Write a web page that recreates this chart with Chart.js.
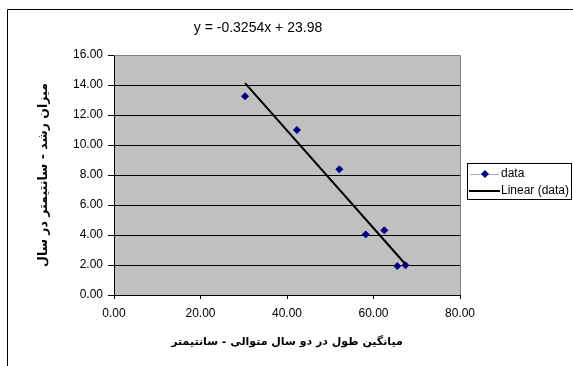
<!DOCTYPE html>
<html>
<head>
<meta charset="utf-8">
<script src="https://cdn.jsdelivr.net/npm/chart.js@4/dist/chart.umd.min.js"></script>
<style>
html,body{margin:0;padding:0;background:#fff;}
canvas{display:block;}
</style>
</head>
<body>
<canvas id="c" width="573" height="366"></canvas>
<script>
// ---- data ----
const pointX = [30.3, 42.3, 52.1, 58.2, 62.5, 65.5, 67.4];
const pointY = [13.25, 11.0, 8.38, 4.04, 4.31, 1.93, 1.98];
const trendX = [30.3, 67.4];
const trendY = [14.12, 2.05];
const trendSlope = -0.3254;
const trendIntercept = 23.98;
const seriesLabels = ['data', 'Linear (data)'];
const xTitle = 'میانگین طول در دو سال متوالی - سانتیمتر';
const yTitle = 'میزان رشد - سانتیمتر در سال';
const xRange = [0, 80], xStep = 20;
const yRange = [0, 16], yStep = 2;

const chartTitle = 'y = ' + trendSlope + 'x + ' + trendIntercept;
const FONT = '"Liberation Sans", Arial, sans-serif';
const AFONT = '"DejaVu Sans", sans-serif';

const decor = {
  id: 'decor',
  beforeDraw(chart) {
    const ctx = chart.ctx, a = chart.chartArea;
    ctx.save();
    ctx.fillStyle = '#fff';
    ctx.fillRect(0, 0, chart.width, chart.height);
    ctx.strokeStyle = '#000';
    ctx.lineWidth = 1;
    ctx.beginPath();
    ctx.moveTo(7.5, chart.height + 1);
    ctx.lineTo(7.5, 9.5);
    ctx.lineTo(chart.width + 1, 9.5);
    ctx.stroke();
    ctx.fillStyle = '#c0c0c0';
    ctx.fillRect(a.left, a.top, a.right - a.left, a.bottom - a.top);
    ctx.restore();
  },
  afterDraw(chart) {
    const ctx = chart.ctx, a = chart.chartArea;
    ctx.save();
    // plot border (top/right)
    ctx.strokeStyle = '#808080';
    ctx.lineWidth = 1;
    ctx.beginPath();
    ctx.moveTo(a.left, Math.round(a.top) + 0.5);
    ctx.lineTo(Math.round(a.right) + 0.5, Math.round(a.top) + 0.5);
    ctx.lineTo(Math.round(a.right) + 0.5, a.bottom);
    ctx.stroke();
    // title
    ctx.fillStyle = '#000';
    ctx.font = '14px ' + FONT;
    ctx.textAlign = 'center';
    ctx.textBaseline = 'middle';
    ctx.fillText(chartTitle, 258, 28);
    // legend
    const ds = chart.data.datasets;
    ctx.strokeStyle = '#000';
    ctx.lineWidth = 1;
    ctx.strokeRect(467.5, 163.5, 104, 36);
    const rows = [174, 191];
    ctx.font = '12px ' + FONT;
    ctx.textAlign = 'left';
    // row 1: marker series
    ctx.strokeStyle = 'rgba(0,0,128,0.35)';
    ctx.beginPath();
    ctx.moveTo(470, rows[0] + 0.5);
    ctx.lineTo(499, rows[0] + 0.5);
    ctx.stroke();
    ctx.fillStyle = ds[0].backgroundColor;
    ctx.beginPath();
    ctx.moveTo(485, rows[0] - 4);
    ctx.lineTo(489, rows[0]);
    ctx.lineTo(485, rows[0] + 4);
    ctx.lineTo(481, rows[0]);
    ctx.closePath();
    ctx.fill();
    ctx.fillStyle = '#000';
    ctx.fillText(ds[0].label, 501, rows[0]);
    // row 2: trend line
    ctx.strokeStyle = ds[1].borderColor;
    ctx.lineWidth = 2;
    ctx.beginPath();
    ctx.moveTo(469, rows[1]);
    ctx.lineTo(500, rows[1]);
    ctx.stroke();
    ctx.fillText(ds[1].label, 501, rows[1]);
    ctx.restore();
  }
};

new Chart(document.getElementById('c'), {
  type: 'scatter',
  data: {
    datasets: [
      {
        label: seriesLabels[0],
        data: pointX.map((x, i) => ({x: x, y: pointY[i]})),
        backgroundColor: '#000080',
        borderColor: '#000080',
        borderWidth: 1,
        pointStyle: 'rectRot',
        pointRadius: 3.5,
        showLine: false,
        order: 2
      },
      {
        label: seriesLabels[1],
        data: trendX.map((x, i) => ({x: x, y: trendY[i]})),
        borderColor: '#000',
        backgroundColor: '#000',
        borderWidth: 2,
        pointRadius: 0,
        showLine: true,
        order: 1
      }
    ]
  },
  options: {
    responsive: false,
    animation: false,
    devicePixelRatio: 1,
    layout: {padding: {left: 0, top: 55, right: 113, bottom: 0}},
    plugins: {legend: {display: false}, title: {display: false}, tooltip: {enabled: false}},
    scales: {
      x: {
        type: 'linear',
        min: xRange[0], max: xRange[1],
        afterFit(s) { s.height = 71; },
        ticks: {stepSize: xStep, color: '#000', font: {family: FONT, size: 12}, padding: 7,
                callback: v => v.toFixed(2), maxRotation: 0},
        grid: {drawOnChartArea: false, drawTicks: true, tickLength: 4, tickColor: '#000'},
        border: {color: '#000', width: 1},
        title: {display: true, text: xTitle, color: '#000',
                font: {family: AFONT, size: 11, weight: 'bold'}, padding: {top: 0, bottom: 17}}
      },
      y: {
        min: yRange[0], max: yRange[1],
        afterFit(s) { s.width = 114; },
        ticks: {stepSize: yStep, color: '#000', font: {family: FONT, size: 12}, padding: 5,
                callback: v => v.toFixed(2)},
        grid: {color: c => (c.tick && c.tick.value === yRange[1]) ? '#808080' : '#000',
               tickLength: 6, tickColor: '#000', lineWidth: 1},
        border: {color: '#000', width: 1},
        title: {display: true, text: yTitle, color: '#000',
                font: {family: AFONT, size: 12.5, weight: 'bold'}, padding: {top: 36, bottom: 0}}
      }
    }
  },
  plugins: [decor]
});
</script>
</body>
</html>
